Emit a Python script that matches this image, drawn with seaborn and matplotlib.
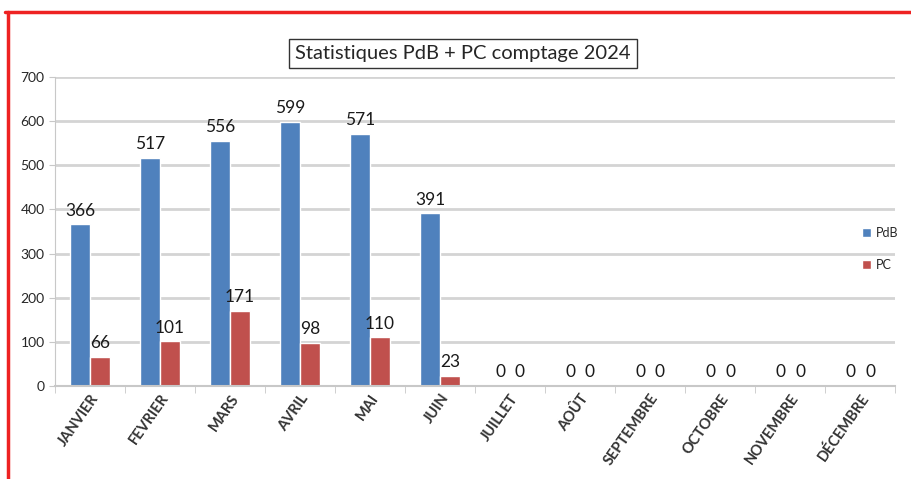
import matplotlib
matplotlib.use("Agg")
import matplotlib.pyplot as plt
from matplotlib.patches import Patch
from matplotlib.lines import Line2D
import seaborn as sns
import pandas as pd

# donnees du graphique
mois = ["JANVIER", "FEVRIER", "MARS", "AVRIL", "MAI", "JUIN", "JUILLET",
        "AOÛT", "SEPTEMBRE", "OCTOBRE", "NOVEMBRE", "DÉCEMBRE"]
pdb = [366, 517, 556, 599, 571, 391, 0, 0, 0, 0, 0, 0]
pc = [66, 101, 171, 98, 110, 23, 0, 0, 0, 0, 0, 0]
series = ["PdB", "PC"]
couleurs = ["#4F81BD", "#C0504D"]

df = pd.DataFrame({
    "mois": mois * 2,
    "valeur": pdb + pc,
    "serie": [series[0]] * len(mois) + [series[1]] * len(mois),
})

sns.set_style("white")
plt.rcParams["font.family"] = ["Lato", "DejaVu Sans"]

fig = plt.figure(figsize=(9.12, 4.79), dpi=100)
ax = fig.add_axes([0.0603, 0.1942, 0.9211, 0.645])

sns.barplot(data=df, x="mois", y="valeur", hue="serie", palette=couleurs,
            width=0.57, saturation=1, ax=ax, legend=False)

for c in ax.containers:
    ax.bar_label(c, padding=4, fontsize=12.5, color="#1a1a1a")

ax.set_ylim(0, 700)
ax.set_xlim(-0.5, len(mois) - 0.5)
ax.set_yticks(range(0, 701, 100))
ax.grid(axis="y", color="#d4d4d4", linewidth=2)
ax.set_axisbelow(True)
ax.set_xlabel("")
ax.set_ylabel("")

for s in ["top", "right"]:
    ax.spines[s].set_visible(False)
ax.spines["left"].set_color("#c8c8c8")
ax.spines["bottom"].set_color("#c8c8c8")
ax.spines["bottom"].set_linewidth(1.5)

ax.tick_params(axis="y", labelsize=10, length=4, color="#c8c8c8", left=True)
ax.set_xticks([i - 0.5 for i in range(len(mois) + 1)], minor=True)
ax.tick_params(axis="x", which="minor", length=5, color="#c8c8c8", bottom=True)
ax.tick_params(axis="x", which="major", length=0, labelsize=10.5, pad=4)
ax.set_xticks(range(len(mois)))
ax.set_xticklabels(mois, rotation=55, ha="right", rotation_mode="anchor",
                   fontweight="bold", color="#333333")

fig.text(0.508, 0.889, "Statistiques PdB + PC comptage 2024", ha="center",
         va="center", fontsize=14.5,
         bbox=dict(boxstyle="square,pad=0.3", facecolor="white",
                   edgecolor="#333333", linewidth=1))

handles = [Patch(facecolor=couleurs[i], label=series[i]) for i in range(2)]
fig.legend(handles=handles, loc="center left", bbox_to_anchor=(0.945, 0.48),
           frameon=False, handlelength=0.7, handleheight=0.7,
           labelspacing=1.6, fontsize=9, handletextpad=0.4,
           borderaxespad=0, borderpad=0)

# cadre rouge
fig.add_artist(Line2D([0.006, 1.0], [0.975, 0.975], color="#ee2222", linewidth=2.5))
fig.add_artist(Line2D([0.009, 0.009], [0.0, 0.975], color="#ee2222", linewidth=2.5))

fig.savefig("out.png", dpi=100)
